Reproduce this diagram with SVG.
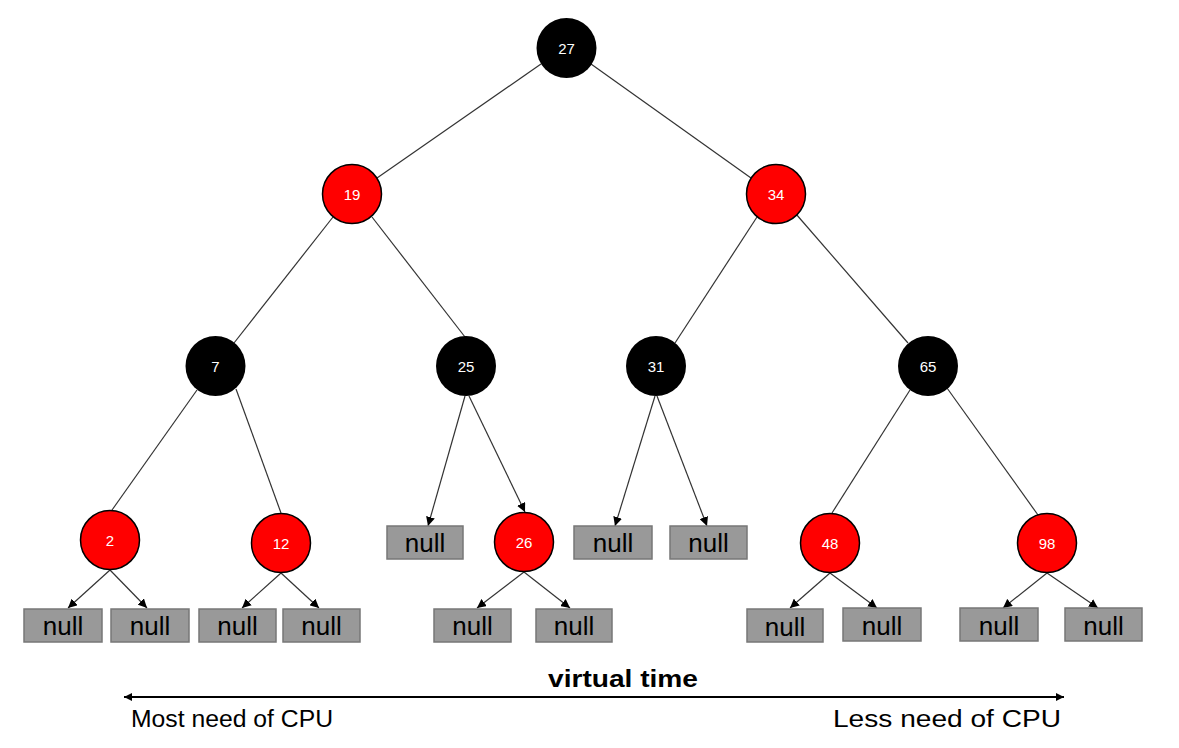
<svg xmlns="http://www.w3.org/2000/svg" width="1179" height="748" viewBox="0 0 1179 748">
  <defs>
    <marker id="arr" viewBox="0 0 10 10" refX="10" refY="5" markerWidth="9" markerHeight="9" markerUnits="userSpaceOnUse" orient="auto">
      <path d="M0,0 L10,5 L0,10 Z" fill="#000"/>
    </marker>
    <marker id="arr2" viewBox="0 0 10 10" refX="10" refY="5" markerWidth="8" markerHeight="8" markerUnits="userSpaceOnUse" orient="auto-start-reverse">
      <path d="M0,0 L10,5 L0,10 Z" fill="#000"/>
    </marker>
  </defs>
  <style>
    .black { fill: #000; }
    .red { fill: #ff0000; stroke: #000; stroke-width: 1.5; }
    .num { fill: #fff; font-family: "Liberation Sans", Arial, sans-serif; font-size: 15px; text-anchor: middle; dominant-baseline: central; }
    .nullbox { fill: #999; stroke: #777; stroke-width: 1.5; }
    .nulltxt { fill: #000; font-family: "Liberation Sans", Arial, sans-serif; font-size: 26px; text-anchor: middle; }
    .edge { stroke: #333; stroke-width: 1.2; fill: none; }
    .arrow { stroke: #333; stroke-width: 1.2; fill: none; marker-end: url(#arr); }
    .label { font-family: "Liberation Sans", Arial, sans-serif; font-size: 23.5px; fill: #000; }
  </style>
  <rect width="1179" height="748" fill="#fff"/>

  <!-- tree connectors -->
  <g id="connectors">
    <line class="edge" x1="541" y1="64" x2="377" y2="178"/>
    <line class="edge" x1="591" y1="64" x2="751" y2="178"/>
    <line class="edge" x1="333" y1="217" x2="234" y2="343"/>
    <line class="edge" x1="372" y1="217" x2="465" y2="337"/>
    <line class="edge" x1="757" y1="217" x2="675" y2="343"/>
    <line class="edge" x1="796" y1="214" x2="908" y2="343"/>
    <line class="edge" x1="197" y1="390" x2="112" y2="510"/>
    <line class="edge" x1="236" y1="389" x2="281" y2="513"/>
    <line class="arrow" x1="465" y1="396" x2="428" y2="526"/>
    <line class="arrow" x1="469" y1="396" x2="525" y2="512"/>
    <line class="arrow" x1="655" y1="396" x2="615" y2="526"/>
    <line class="arrow" x1="657" y1="396" x2="707" y2="526"/>
    <line class="edge" x1="910" y1="390" x2="832" y2="513"/>
    <line class="edge" x1="947" y1="388" x2="1038" y2="515"/>
    <line class="arrow" x1="110" y1="570" x2="68" y2="608"/>
    <line class="arrow" x1="110" y1="570" x2="147" y2="608"/>
    <line class="arrow" x1="281" y1="573" x2="242" y2="608"/>
    <line class="arrow" x1="281" y1="573" x2="319" y2="608"/>
    <line class="arrow" x1="524" y1="572" x2="477" y2="608"/>
    <line class="arrow" x1="524" y1="572" x2="570" y2="608"/>
    <line class="arrow" x1="830" y1="573" x2="790" y2="608"/>
    <line class="arrow" x1="830" y1="573" x2="877" y2="608"/>
    <line class="arrow" x1="1047" y1="573" x2="1003" y2="608"/>
    <line class="arrow" x1="1047" y1="573" x2="1098" y2="608"/>
  </g>

  <!-- tree nodes -->
  <g id="n27"><circle class="black" cx="566.5" cy="48" r="30"/><text class="num" x="566.5" y="48">27</text></g>
  <g id="n19"><circle class="red" cx="352" cy="194" r="29.5"/><text class="num" x="352" y="194">19</text></g>
  <g id="n34"><circle class="red" cx="776" cy="194" r="29.5"/><text class="num" x="776" y="194">34</text></g>
  <g id="n7"><circle class="black" cx="215.5" cy="366" r="30"/><text class="num" x="215.5" y="366">7</text></g>
  <g id="n25"><circle class="black" cx="466" cy="366" r="30"/><text class="num" x="466" y="366">25</text></g>
  <g id="n31"><circle class="black" cx="656" cy="366" r="30"/><text class="num" x="656" y="366">31</text></g>
  <g id="n65"><circle class="black" cx="928" cy="366" r="30"/><text class="num" x="928" y="366">65</text></g>
  <g id="n2"><circle class="red" cx="110" cy="540" r="29.5"/><text class="num" x="110" y="540">2</text></g>
  <g id="n12"><circle class="red" cx="281" cy="543" r="29.5"/><text class="num" x="281" y="543">12</text></g>
  <g id="n26"><circle class="red" cx="524" cy="542" r="29.5"/><text class="num" x="524" y="542">26</text></g>
  <g id="n48"><circle class="red" cx="830" cy="543" r="29.5"/><text class="num" x="830" y="543">48</text></g>
  <g id="n98"><circle class="red" cx="1047" cy="543" r="29.5"/><text class="num" x="1047" y="543">98</text></g>

  <!-- null leaves -->
  <g id="null-2a"><rect class="nullbox" x="24" y="609" width="78" height="33"/><text class="nulltxt" x="63" y="635">null</text></g>
  <g id="null-2b"><rect class="nullbox" x="111" y="609" width="78" height="33"/><text class="nulltxt" x="150" y="635">null</text></g>
  <g id="null-12a"><rect class="nullbox" x="199" y="609" width="77" height="33"/><text class="nulltxt" x="237.5" y="635">null</text></g>
  <g id="null-12b"><rect class="nullbox" x="283" y="609" width="77" height="33"/><text class="nulltxt" x="321.5" y="635">null</text></g>
  <g id="null-25"><rect class="nullbox" x="387" y="526" width="76" height="33"/><text class="nulltxt" x="425" y="552">null</text></g>
  <g id="null-26a"><rect class="nullbox" x="434" y="609" width="77" height="33"/><text class="nulltxt" x="472.5" y="635">null</text></g>
  <g id="null-26b"><rect class="nullbox" x="536" y="609" width="76" height="33"/><text class="nulltxt" x="574" y="635">null</text></g>
  <g id="null-31a"><rect class="nullbox" x="574" y="526" width="78" height="33"/><text class="nulltxt" x="613" y="552">null</text></g>
  <g id="null-31b"><rect class="nullbox" x="670" y="526" width="77" height="33"/><text class="nulltxt" x="708.5" y="552">null</text></g>
  <g id="null-48a"><rect class="nullbox" x="747" y="609" width="76" height="33"/><text class="nulltxt" x="785" y="636">null</text></g>
  <g id="null-48b"><rect class="nullbox" x="843" y="608" width="78" height="33"/><text class="nulltxt" x="882" y="635">null</text></g>
  <g id="null-98a"><rect class="nullbox" x="960" y="608" width="78" height="33"/><text class="nulltxt" x="999" y="635">null</text></g>
  <g id="null-98b"><rect class="nullbox" x="1065" y="608" width="77" height="33"/><text class="nulltxt" x="1103.5" y="635">null</text></g>

  <!-- virtual time axis -->
  <g id="axis">
    <line x1="124" y1="697" x2="1064" y2="697" stroke="#000" stroke-width="2" marker-start="url(#arr2)" marker-end="url(#arr2)"/>
    <text x="548" y="687" textLength="150" lengthAdjust="spacingAndGlyphs" font-family="'Liberation Sans', Arial, sans-serif" font-size="24" font-weight="bold">virtual time</text>
    <text class="label" x="131" y="727" textLength="202" lengthAdjust="spacingAndGlyphs">Most need of CPU</text>
    <text class="label" x="833" y="727" textLength="228" lengthAdjust="spacingAndGlyphs">Less need of CPU</text>
  </g>
</svg>
